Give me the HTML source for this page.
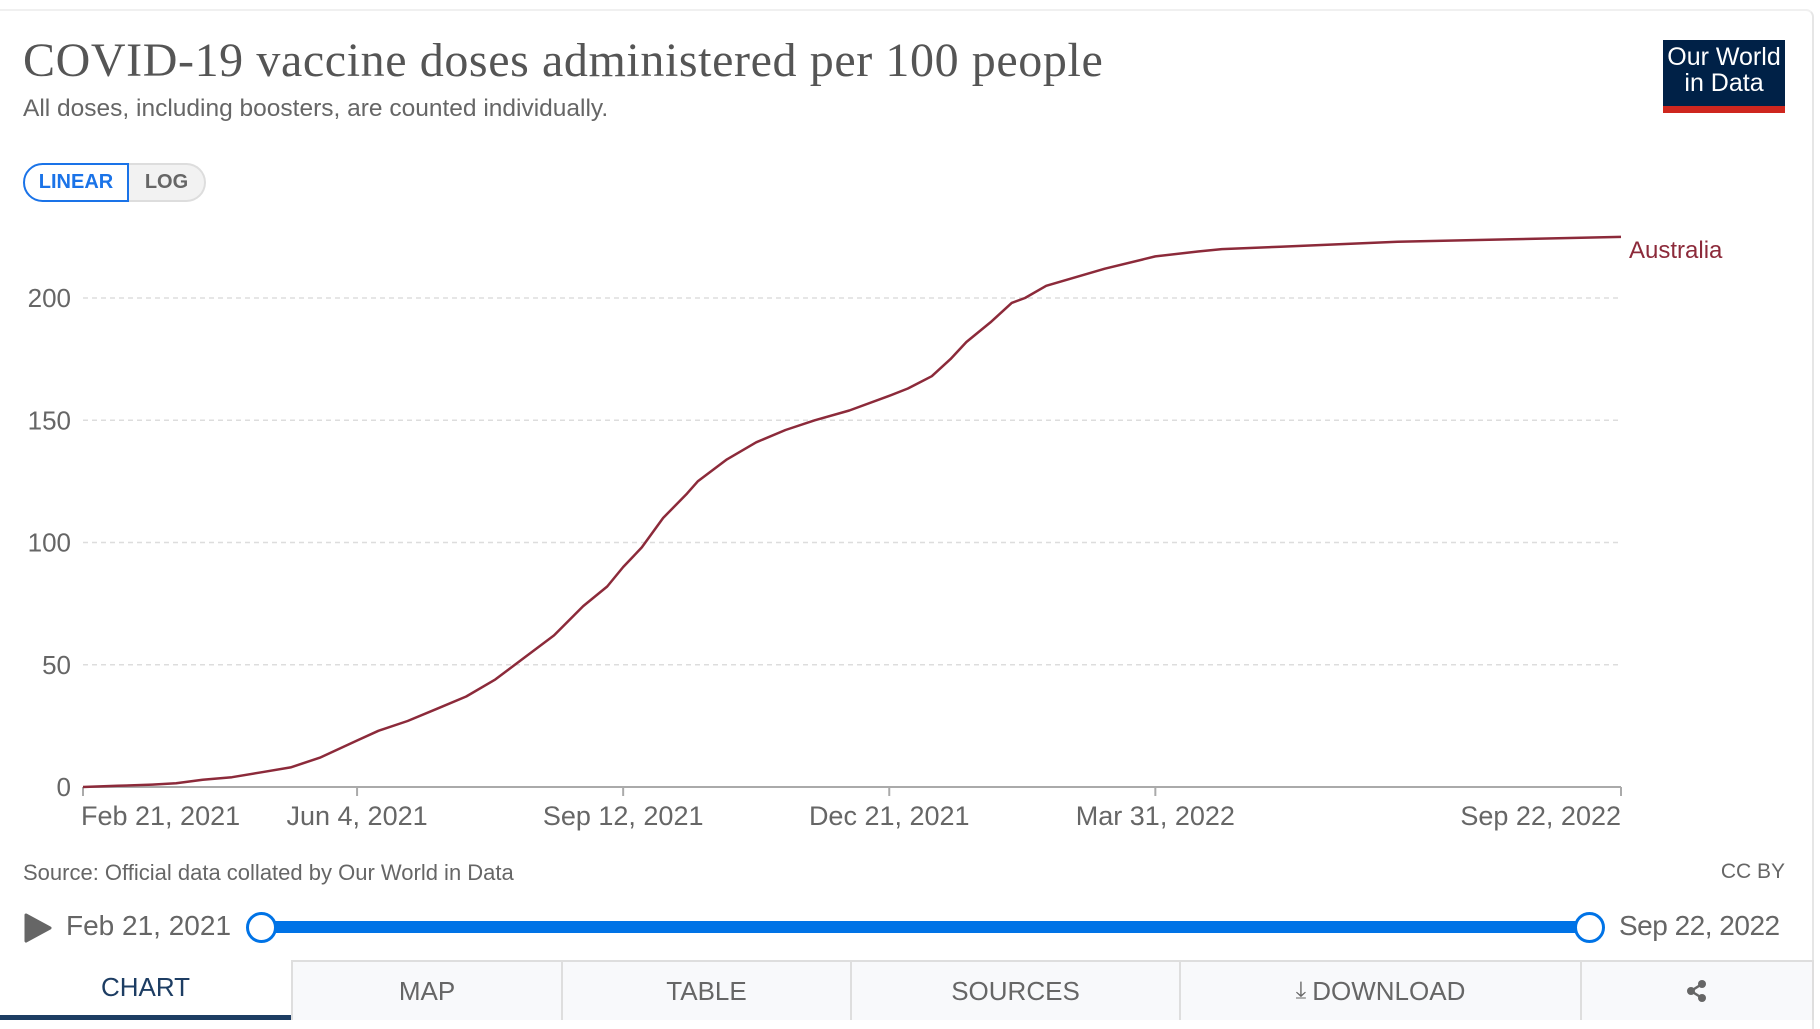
<!DOCTYPE html>
<html><head><meta charset="utf-8"><style>
body{margin:0;width:1820px;height:1020px;background:#fff;font-family:"Liberation Sans",sans-serif;overflow:hidden;position:relative}
.abs{position:absolute}
#card{left:0;top:9px;width:1814px;height:1020px;border-right:2px solid #e6e6e6;border-top:2px solid #f0f0f0;border-radius:0 8px 0 0;box-sizing:border-box}
.tab{position:absolute;top:960px;height:60px;background:#f8f9fb;border-left:2px solid #dedede;border-top:2px solid #dedede;box-sizing:border-box;color:#666;font-size:26px;display:flex;align-items:center;justify-content:center}
</style></head><body>
<div class="abs" id="card"></div>
<div class="abs" style="left:23px;top:33px;font-family:'Liberation Serif',serif;font-size:48px;letter-spacing:0.6px;color:#555">COVID-19 vaccine doses administered per 100 people</div>
<div class="abs" style="left:23px;top:95px;font-size:24.5px;color:#666">All doses, including boosters, are counted individually.</div>
<div class="abs" style="left:1663px;top:40px;width:122px;height:62px;background:#002147;border-bottom:7px solid #ce261e;color:#fff;font-size:25px;line-height:26px;text-align:center;padding-top:4px;box-sizing:content-box">Our World<br>in Data</div>
<div class="abs" style="left:23px;top:163px;width:106px;height:39px;border:2px solid #1a73e8;border-radius:20px 0 0 20px;box-sizing:border-box;color:#1a73e8;font-weight:bold;font-size:20px;display:flex;align-items:center;justify-content:center">LINEAR</div>
<div class="abs" style="left:129px;top:163px;width:77px;height:39px;border:2px solid #ddd;border-left:none;border-radius:0 20px 20px 0;box-sizing:border-box;background:#f2f2f2;color:#666;font-weight:bold;font-size:20px;display:flex;align-items:center;justify-content:center">LOG</div>
<svg class="abs" style="left:0;top:0" width="1820" height="1020" id="chart"></svg>
<div class="abs" style="left:23px;top:860px;font-size:22px;color:#666">Source: Official data collated by Our World in Data</div>
<div class="abs" style="right:35px;top:860px;font-size:21px;color:#666">CC BY</div>
<svg class="abs" style="left:24px;top:913px" width="28" height="30"><path d="M2 2 L26 15 L2 28 Z" fill="#666" stroke="#666" stroke-linejoin="round" stroke-width="3"/></svg>
<div class="abs" style="left:66px;top:910px;font-size:28px;color:#666">Feb 21, 2021</div>
<div class="abs" style="left:1619px;top:910px;font-size:28px;color:#666;letter-spacing:-0.5px">Sep 22, 2022</div>
<div class="abs" style="left:261px;top:921px;width:1326px;height:12px;background:#0073e6"></div>
<div class="abs" style="left:246px;top:912px;width:25px;height:25px;border:3px solid #0073e6;border-radius:50%;background:#fff"></div>
<div class="abs" style="left:1574px;top:912px;width:25px;height:25px;border:3px solid #0073e6;border-radius:50%;background:#fff"></div>
<div class="tab" style="left:0;width:291px;background:#fff;border:none;border-bottom:5px solid #1d3d63;color:#1d3d63">CHART</div>
<div class="tab" style="left:291px;width:270px">MAP</div>
<div class="tab" style="left:561px;width:289px">TABLE</div>
<div class="tab" style="left:850px;width:329px">SOURCES</div>
<div class="tab" style="left:1179px;width:401px"><span style="font-size:24px;margin-right:6px">⤓</span>DOWNLOAD</div>
<div class="tab" style="left:1580px;width:234px;border-right:2px solid #dedede">
<svg width="24" height="24"><circle cx="17" cy="5" r="4" fill="#666"/><circle cx="6" cy="12" r="4" fill="#666"/><circle cx="17" cy="19" r="4" fill="#666"/><path d="M17 5L6 12L17 19" stroke="#666" stroke-width="2.5" fill="none"/></svg></div>
<script>
const dayOffsets=[0,13,26,35,45,56,67,78,89,103,111,122,133,144,155,166,177,188,197,203,210,218,227,231,242,253,264,275,288,303,310,319,326,332,341,349,354,362,384,403,419,428,450,494,537,578];
const dosesPer100=[0,0.5,1,1.5,3,4,6,8,12,19,23,27,32,37,44,53,62,74,82,90,98,110,120,125,134,141,146,150,154,160,163,168,175,182,190,198,200,205,212,217,219,220,221,223,224,225];
const yTicks=[0,50,100,150,200];
const xTickDays=[0,103,203,303,403,578];
const xTickLabels=["Feb 21, 2021","Jun 4, 2021","Sep 12, 2021","Dec 21, 2021","Mar 31, 2022","Sep 22, 2022"];
const seriesName="Australia";
const svg=document.getElementById('chart');const NS='http://www.w3.org/2000/svg';
const X0=83,X1=1621,Y0=787,Y200=298,DMAX=578;
const xs=d=>X0+(X1-X0)*d/DMAX;const ys=v=>Y0-(Y0-Y200)*v/200;
function mk(t,a){const e=document.createElementNS(NS,t);for(const k in a)e.setAttribute(k,a[k]);svg.appendChild(e);return e;}
yTicks.forEach(v=>{
 if(v>0){const g=mk('line',{x1:X0,x2:X1,y1:ys(v),y2:ys(v),stroke:'#ddd','stroke-dasharray':'5,4','stroke-width':1.5});
 
 }
 const t=mk('text',{x:71,y:ys(v)+9,'text-anchor':'end','font-size':26,fill:'#666','font-family':'Liberation Sans'});t.textContent=v;
 
 
});
const ax=mk('line',{x1:X0,x2:X1,y1:Y0,y2:Y0,stroke:'#aaa','stroke-width':2});


xTickDays.forEach((d,i)=>{
 const tk=mk('line',{x1:xs(d),x2:xs(d),y1:Y0,y2:Y0+9,stroke:'#aaa','stroke-width':2});
 
 
 const anchor=i==0?'start':(i==xTickDays.length-1?'end':'middle');
 const t=mk('text',{x:xs(d)+(i==0?-2:0),y:825,'text-anchor':anchor,'font-size':27,fill:'#666','font-family':'Liberation Sans'});t.textContent=xTickLabels[i];
 
 
});
const pts=dayOffsets.map((d,i)=>xs(d).toFixed(1)+','+ys(dosesPer100[i]).toFixed(1)).join(' ');
const pl=mk('polyline',{points:pts,fill:'none',stroke:'#8c2a3a','stroke-width':2.5,'stroke-linejoin':'round'});


const lab=mk('text',{x:1629,y:ys(dosesPer100[dosesPer100.length-1])+21,'font-size':24,fill:'#8c2a3a','font-family':'Liberation Sans'});lab.textContent=seriesName;


</script>
</body></html>
